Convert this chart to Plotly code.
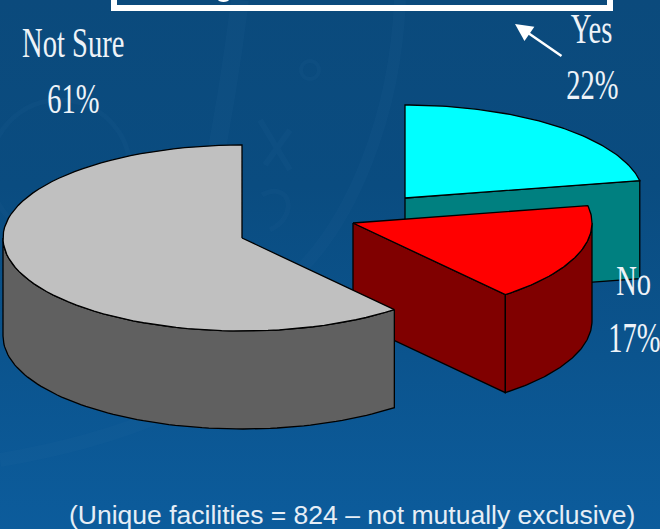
import base64
import numpy as np
import plotly.graph_objects as go

labels = ["Yes", "No", "Not Sure"]
shares = [22, 17, 61]
footnote = "(Unique facilities = 824 – not mutually exclusive)"

RX, RY, DEPTH = 239, 93, 98
APEX = {"Yes": (405, 198), "No": (353, 223), "Not Sure": (242, 238)}
TOP_COLORS = {"Yes": "#00ffff", "No": "#ff0000", "Not Sure": "#c0c0c0"}
SIDE_COLORS = {"Yes": "#008080", "No": "#800000", "Not Sure": "#606060"}
SERIF = "Liberation Serif"
SANS = "Liberation Sans"


def rim(apex, start, end, n=80):
    # angles are clockwise from 12 o'clock, in degrees
    a = np.radians(np.linspace(start, end, n))
    return apex[0] + RX * np.sin(a), apex[1] - RY * np.cos(a)


def face(fig, x, y, color):
    fig.add_trace(go.Scatter(
        x=list(x) + [x[0]], y=list(y) + [y[0]],
        mode="lines", fill="toself", fillcolor=color,
        line=dict(color="black", width=1.3),
        hoverinfo="skip", showlegend=False,
    ))


def add_slice(fig, name, start, end):
    apex = APEX[name]
    rx, ry = rim(apex, start, end)

    # cut face at the end of the wedge (grey's one looks away from the viewer)
    if name != "Not Sure":
        px, py = rx[-1], ry[-1]
        face(fig, [apex[0], px, px, apex[0]],
             [apex[1], py, py + DEPTH, apex[1] + DEPTH], SIDE_COLORS[name])

    # outer wall, only the front half of the rim shows
    lo, hi = max(start, 90), min(end, 270)
    if hi > lo:
        wx, wy = rim(apex, lo, hi)
        face(fig, list(wx) + list(wx[::-1]),
             list(wy) + list(wy[::-1] + DEPTH), SIDE_COLORS[name])

    # top face
    face(fig, [apex[0]] + list(rx), [apex[1]] + list(ry), TOP_COLORS[name])


def background():
    svg = """<svg xmlns="http://www.w3.org/2000/svg" width="660" height="529">
<defs><linearGradient id="g" x1="0" y1="0" x2="0" y2="1">
<stop offset="0" stop-color="#0b4a7c"/><stop offset="0.35" stop-color="#0a4c80"/>
<stop offset="1" stop-color="#0c5c9c"/></linearGradient></defs>
<rect width="660" height="529" fill="url(#g)"/>
<g fill="none" stroke="#2f78a8" stroke-opacity="0.08">
<path d="M240 0 C225 120 200 250 170 340" stroke-width="18"/>
<path d="M400 0 C395 120 350 220 300 270" stroke-width="12"/>
<path d="M0 460 C120 440 220 400 300 330" stroke-width="14"/>
<circle cx="60" cy="170" r="70" stroke-width="5"/>
<circle cx="310" cy="70" r="9" stroke-width="4"/>
<path d="M260 120 L290 170 M290 130 L265 165" stroke-width="6"/>
<path d="M262 195 C290 180 300 215 270 230" stroke-width="5"/>
</g></svg>"""
    return "data:image/svg+xml;base64," + base64.b64encode(svg.encode()).decode()


fig = go.Figure()

# Wedges go clockwise from the top: Yes, No, then Not Sure back round to the top
order = list(zip(labels, np.cumsum([0] + shares[:-1]) * 3.6, np.cumsum(shares) * 3.6))
for name, start, end in order:
    add_slice(fig, name, start, end)

# Title box, cut by the top edge of the page
fig.add_shape(type="rect", x0=114, x1=610, y0=-10, y1=8, line=dict(color="white", width=6),
              fillcolor="rgba(0,0,0,0)")
# the only bit of the cut off title still showing is one descender
fig.add_shape(type="circle", x0=218, x1=229, y0=-3, y1=2, line_width=0, fillcolor="white")

# Arrow from the Yes label to the box
fig.add_annotation(x=515, y=24, ax=563, ay=57, xref="x", yref="y", axref="x", ayref="y",
                   text="", showarrow=True, arrowhead=2, arrowsize=1.4, arrowwidth=2.5,
                   arrowcolor="white")

label_font = dict(family=SERIF, size=42, color="#eef3f8")
label_pos = {"Not Sure": [(73, 43), (73, 99)], "Yes": [(591, 29), (592, 85)], "No": [(633, 281), (634, 338)]}
for name, share in zip(labels, shares):
    for text, (x, y) in zip([name, f"{share}%"], label_pos[name]):
        fig.add_annotation(x=x, y=y, text=text, showarrow=False, font=label_font,
                           xanchor="center", yanchor="middle")

fig.add_annotation(x=352, y=515, text=footnote, showarrow=False,
                   font=dict(family=SANS, size=26.5, color="#e6eef6"),
                   xanchor="center", yanchor="middle")

fig.update_layout(
    width=660, height=529,
    margin=dict(l=0, r=0, t=0, b=0),
    paper_bgcolor="#0b5084",
    plot_bgcolor="rgba(0,0,0,0)",
    xaxis=dict(range=[0, 660], visible=False, fixedrange=True),
    yaxis=dict(range=[529, 0], visible=False, fixedrange=True),
    images=[dict(source=background(), xref="paper", yref="paper", x=0, y=1, sizex=1, sizey=1,
                 sizing="stretch", layer="below")],
)

# Drop the page margin, and narrow the serif labels (the slide uses a squeezed Times)
squeeze = """
document.body.style.margin = '0';
document.querySelectorAll('.annotation-text').forEach(function (t) {
  if (t.style.fontFamily.indexOf('Serif') < 0) return;
  var b = t.getBBox(), cx = b.x + b.width / 2;
  t.setAttribute('transform', 'translate(' + cx + ',0) scale(0.68,1) translate(' + (-cx) + ',0)');
});
"""
fig.write_html("out.html", post_script=squeeze, config=dict(displayModeBar=False))
